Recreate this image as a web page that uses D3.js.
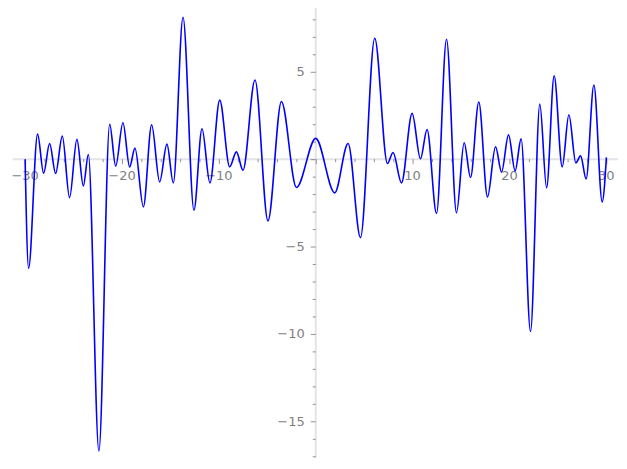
<!DOCTYPE html>
<html>
<head>
<meta charset="utf-8">
<script src="https://cdn.jsdelivr.net/npm/d3@7"></script>
<style>
  body { margin: 0; background: #fff; }
  svg { display: block; }
  .lbl { font-family: "DejaVu Sans", sans-serif; font-size: 13px; fill: #808080; }
</style>
</head>
<body>
<svg id="chart" width="627" height="469"></svg>
<script>
// curve turning points (x, y)
const xs = [-30, -29.64, -28.71, -28.09, -27.47, -26.85, -26.16, -25.41, -24.65, -23.99,
  -23.47, -22.38, -21.27, -20.65, -19.9, -19.21, -18.66, -17.79, -16.94, -16.11,
  -15.36, -14.7, -13.7, -12.57, -11.74, -10.92, -9.91, -8.88, -8.19, -7.51,
  -6.27, -4.93, -3.54, -1.99, 0, 1.96, 3.34, 4.62, 6.09, 7.4,
  7.98, 8.85, 9.95, 10.81, 11.49, 12.47, 13.5, 14.53, 15.32, 15.98,
  16.83, 17.73, 18.56, 19.18, 19.9, 20.58, 21.2, 22.17, 23.13, 23.83,
  24.61, 25.44, 26.13, 26.85, 27.34, 27.91, 28.71, 29.57, 30];
const ys = [0, -6.25, 1.43, -0.8, 0.9, -0.82, 1.32, -2.2, 1.13, -1.53,
  0.27, -16.7, 2.0, -0.4, 2.08, -0.44, 0.63, -2.73, 1.97, -1.3,
  0.86, -1.36, 8.12, -2.92, 1.74, -1.36, 3.38, -0.44, 0.42, -0.63,
  4.53, -3.53, 3.3, -1.62, 1.19, -1.93, 0.9, -4.49, 6.92, -0.25,
  0.38, -1.36, 2.62, 0.02, 1.7, -3.11, 6.86, -3.07, 0.94, -1.05,
  3.27, -2.16, 0.71, -0.74, 1.39, -0.67, 1.16, -9.86, 3.15, -1.64,
  4.77, -0.44, 2.54, -0.21, 0.19, -1.13, 4.24, -2.45, 0.1];

const xMajor = [-30, -20, -10, 10, 20, 30];
const yMajor = [5, -5, -10, -15];

const svg = d3.select("#chart");
const x = d3.scaleLinear().domain([-31.3, 31.2]).range([12.5, 618]);
const y = d3.scaleLinear().domain([8.65, -17.1]).range([8, 458]);

const fmt = d => (d < 0 ? "\u2212" + Math.abs(d) : "" + d);

// axis lines
svg.append("line").attr("x1", x(-31.3)).attr("x2", x(31.2))
  .attr("y1", y(0)).attr("y2", y(0))
  .attr("stroke", "#e4e4e4").attr("stroke-width", 2);
svg.append("line").attr("x1", x(0)).attr("x2", x(0))
  .attr("y1", y(8.65)).attr("y2", y(-17.1))
  .attr("stroke", "#e4e4e4").attr("stroke-width", 2);

// x ticks
const xMinor = d3.range(-30, 31, 2);
const xAx = svg.append("g").attr("transform", `translate(0,${y(0)})`)
  .call(d3.axisBottom(x).tickValues(xMinor).tickSize(3).tickFormat(""));
xAx.select(".domain").remove();
xAx.selectAll(".tick line").attr("stroke", "#777").attr("stroke-width", 0.8)
  .attr("y2", d => (d % 10 === 0 ? 5 : 3));

svg.append("g").selectAll("text").data(xMajor).join("text")
  .attr("class", "lbl")
  .attr("x", d => x(d)).attr("y", y(0) + 21)
  .attr("text-anchor", "middle")
  .text(fmt);

// y ticks
const yMinor = d3.range(-17, 9, 1);
const yAx = svg.append("g").attr("transform", `translate(${x(0)},0)`)
  .call(d3.axisLeft(y).tickValues(yMinor).tickSize(3).tickFormat(""));
yAx.select(".domain").remove();
yAx.selectAll(".tick line").attr("stroke", "#777").attr("stroke-width", 0.8)
  .attr("x2", d => (d % 5 === 0 ? -5 : -3));

svg.append("g").selectAll("text").data(yMajor).join("text")
  .attr("class", "lbl")
  .attr("x", x(0) - 11).attr("y", d => y(d) + 4.5)
  .attr("text-anchor", "end")
  .text(fmt);

// the curve
const pts = xs.map((v, i) => [v, ys[i]]);
const line = d3.line().x(d => x(d[0])).y(d => y(d[1])).curve(d3.curveMonotoneX);
svg.append("path").datum(pts)
  .attr("d", line)
  .attr("fill", "none")
  .attr("stroke", "#0000ff")
  .attr("stroke-width", 1.6);
</script>
</body>
</html>
